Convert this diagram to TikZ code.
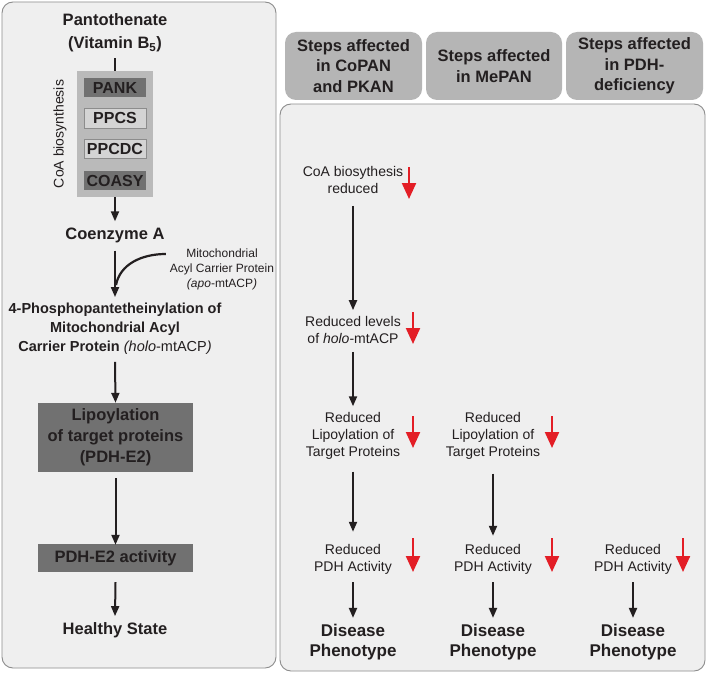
\documentclass[tikz,border=0pt]{standalone}
\usepackage{fontspec}
\setmainfont{Liberation Sans}
\usetikzlibrary{arrows.meta}
\definecolor{ink}{HTML}{231F20}
\definecolor{panelbg}{HTML}{EFEFEF}
\definecolor{panelborder}{HTML}{8C8C8C}
\definecolor{headfill}{HTML}{B5B5B5}
\definecolor{contfill}{HTML}{BABABA}
\definecolor{darkbox}{HTML}{717171}
\definecolor{lightbox}{HTML}{D4D4D4}
\definecolor{redc}{HTML}{E31E26}
\begin{document}
\begin{tikzpicture}[x=1pt,y=-1pt,
  panel/.style={fill=panelbg,draw=panelborder,line width=0.9pt,rounded corners=11pt},
  headbox/.style={fill=headfill,draw=none,rounded corners=11pt},
  txt/.style={text=ink,align=center,inner sep=0pt,font=\fontsize{14}{17}\selectfont},
  small/.style={text=ink,align=center,inner sep=0pt,font=\fontsize{12}{15}\selectfont},
  bld/.style={text=ink,align=center,inner sep=0pt,font=\bfseries\fontsize{16.5}{21}\selectfont},
  hdr/.style={text=ink,align=center,inner sep=0pt,font=\bfseries\fontsize{16.5}{20.5}\selectfont},
  dis/.style={text=ink,align=center,inner sep=0pt,font=\bfseries\fontsize{17}{20}\selectfont},
  enz/.style={text=ink,align=center,inner sep=0pt,font=\bfseries\fontsize{16}{18}\selectfont},
  arr/.style={draw=ink,line width=2pt,-{Triangle[length=10pt,width=8pt]}},
  redarr/.style={draw=redc,line width=2.2pt,-{Triangle[length=16pt,width=14pt]}},
  plain/.style={draw=ink,line width=2pt}
]
\useasboundingbox (0,0) rectangle (708,674);
\fill[white] (0,0) rectangle (708,674);

% ---------- left panel ----------
\draw[panel] (2,2) rectangle (276,668);

\node[bld,font=\bfseries\fontsize{16.5}{23}\selectfont] (pant) at (115,33) {Pantothenate\\(Vitamin B\textsubscript{5})};

\node[fill=contfill,minimum width=76pt,minimum height=126pt,inner sep=0pt] (cont) at (115,134) {};
\node[fill=darkbox,minimum width=62pt,minimum height=19pt,enz] (pank) at (115,87.5) {PANK};
\node[fill=lightbox,draw=panelborder,line width=0.8pt,minimum width=62pt,minimum height=20pt,enz] (ppcs) at (115,118) {PPCS};
\node[fill=lightbox,draw=panelborder,line width=0.8pt,minimum width=62pt,minimum height=19pt,enz] (ppcdc) at (115,148.5) {PPCDC};
\node[fill=darkbox,minimum width=62pt,minimum height=19pt,enz] (coasy) at (115,180.5) {COASY};
\node[txt,rotate=90] (coalbl) at (60,134) {CoA biosynthesis};

\draw[plain] ([yshift=-6pt]pant.south) -- (cont.north);

\node[bld] (coa) at (115,235) {Coenzyme A};
\draw[arr] (cont.south) -- ([yshift=6pt]coa.north);

\node[small] (mito) at (222,269) {Mitochondrial\\Acyl Carrier Protein\\\textit{(apo}-mtACP\textit{)}};
\coordinate (mstart) at ([xshift=-4pt,yshift=15pt]mito.west);

\node[text=ink,align=center,inner sep=0pt,font=\bfseries\fontsize{14.5}{19}\selectfont] (phos) at (115,329)
  {4-Phosphopantetheinylation of\\Mitochondrial Acyl\\Carrier Protein {\mdseries\textit{(holo}-mtACP\textit{)}}};
\draw[arr] ([yshift=-8pt]coa.south) -- ([yshift=6pt]phos.north);
\draw[plain,line width=2.2pt] (mstart) .. controls (142,254) and (120,264) .. (116,285);

\node[fill=darkbox,minimum width=155pt,minimum height=69pt,bld] (lipo) at (115.5,437.5)
  {Lipoylation\\of target proteins\\(PDH-E2)};
\draw[arr] ([yshift=-7pt]phos.south) -- (lipo.north);

\node[fill=darkbox,minimum width=155pt,minimum height=28pt,bld] (pdh) at (115.5,558) {PDH-E2 activity};
\draw[arr] ([yshift=-6pt]lipo.south) -- ([yshift=-1pt]pdh.north);

\node[bld] (healthy) at (115,630) {Healthy State};
\draw[arr] ([yshift=-10pt]pdh.south) -- ([yshift=6pt]healthy.north);

% ---------- right side ----------
\draw[headbox] (285,32) rectangle (422,100);
\draw[headbox] (426,32) rectangle (562,100);
\draw[headbox] (566,32) rectangle (703,100);
\node[hdr] (h1) at (353.5,66) {Steps affected\\in CoPAN\\and PKAN};
\node[hdr] (h2) at (494,66) {Steps affected\\in MePAN};
\node[hdr] (h3) at (634.5,66) {Steps affected\\in PDH-\\deficiency};

\draw[panel] (280,104) rectangle (705,671);

% column 1
\node[txt] (c1a) at (353,180) {CoA biosythesis\\reduced};
\node[txt] (c1b) at (353,330) {Reduced levels\\of \textit{holo}-mtACP};
\node[txt] (c1c) at (353,436) {Reduced\\Lipoylation of\\Target Proteins};
\node[txt] (c1d) at (353,559) {Reduced\\PDH Activity};
\node[dis] (c1e) at (353,642) {Disease\\Phenotype};
\draw[arr] ([yshift=-12pt]c1a.south) -- ([yshift=6pt]c1b.north);
\draw[arr] ([yshift=-8pt]c1b.south) -- ([yshift=6pt]c1c.north);
\draw[arr] ([yshift=-12pt]c1c.south) -- ([yshift=12pt]c1d.north);
\draw[arr] ([yshift=-8pt]c1d.south) -- ([yshift=6pt]c1e.north);

% column 2
\node[txt] (c2c) at (493,436) {Reduced\\Lipoylation of\\Target Proteins};
\node[txt] (c2d) at (493,559) {Reduced\\PDH Activity};
\node[dis] (c2e) at (493,642) {Disease\\Phenotype};
\draw[arr] ([yshift=-14pt]c2c.south) -- ([yshift=8pt]c2d.north);
\draw[arr] ([yshift=-8pt]c2d.south) -- ([yshift=6pt]c2e.north);

% column 3
\node[txt] (c3d) at (633,559) {Reduced\\PDH Activity};
\node[dis] (c3e) at (633,642) {Disease\\Phenotype};
\draw[arr] ([yshift=-8pt]c3d.south) -- ([yshift=6pt]c3e.north);

% red arrows
\coordinate (r1s) at (409,167); \coordinate (r1e) at (409,199);
\coordinate (r2s) at (413,312); \coordinate (r2e) at (413,344);
\coordinate (r3s) at (413,416); \coordinate (r3e) at (413,448);
\coordinate (r4s) at (552,416); \coordinate (r4e) at (552,448);
\coordinate (r5s) at (413,538); \coordinate (r5e) at (413,572);
\coordinate (r6s) at (552,538); \coordinate (r6e) at (552,572);
\coordinate (r7s) at (683,538); \coordinate (r7e) at (683,572);
\foreach \i in {1,...,7} {\draw[redarr] (r\i s) -- (r\i e);}
\end{tikzpicture}
\end{document}
